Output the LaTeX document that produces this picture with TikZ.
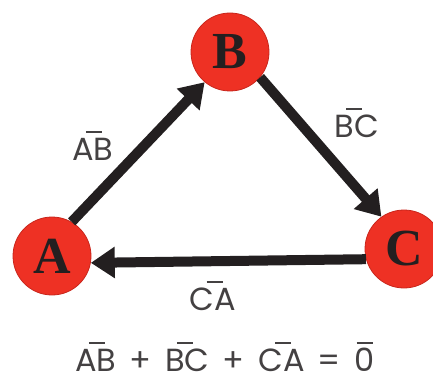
\documentclass[tikz,border=0pt]{standalone}
\usepackage{fontspec}
\usepackage{xcolor}
\usepackage{tikz}
\usetikzlibrary{arrows.meta}
\newfontfamily\labfont{Poppins}
\newfontfamily\ptfont{Liberation Serif}
\definecolor{ink}{HTML}{231F20}
\definecolor{ball}{HTML}{EE3124}
\definecolor{rim}{HTML}{C9261C}
% short bar over the join of two letters
\newcommand\joinbar[2]{#1\makebox[0pt]{\raisebox{0.84em}{\rule{0.5em}{0.07em}}}#2}
% short bar over one letter
\newcommand\onebar[1]{\setbox0\hbox{#1}\makebox[\wd0]{\raisebox{0.84em}{\rule{0.5em}{0.07em}}}\kern-\wd0\box0}
\newcommand\gap{\hspace{0.42em}}
\tikzset{
  pt/.style={circle, fill=ball, draw=rim, line width=0.8pt, minimum size=78pt, inner sep=0pt,
    text=ink, font=\ptfont\bfseries\fontsize{52}{52}\selectfont},
  vec/.style={draw=ink, line width=10pt, -{Triangle[length=24pt,width=30pt]}},
  lab/.style={text=ink!85, anchor=base, inner sep=0pt, font=\labfont\fontsize{32}{32}\selectfont},
}
\begin{document}
\begin{tikzpicture}[x=1pt,y=1pt]
  \useasboundingbox (0,0) rectangle (433,381);
  \node[pt] (A) at (52,125) {A};
  \node[pt] (B) at (230,329) {B};
  \node[pt] (C) at (404,132) {C};
  \draw[vec] (A.60) -- (B.230);
  \draw[vec] (B.-40) -- (C.125);
  \draw[vec] (C.195) -- (A.350);
  \node[lab] (ab) at (93,221) {\joinbar{A}{B}};
  \node[lab] (bc) at (357,244) {\joinbar{B}{C}};
  \node[lab] (ca) at (213,71) {\joinbar{C}{A}};
  \node[lab] (sum) at (225,10) {\joinbar{A}{B}\gap+\gap\joinbar{B}{C}\gap+\gap\joinbar{C}{A}\gap=\gap\onebar{0}};
\end{tikzpicture}
\end{document}
